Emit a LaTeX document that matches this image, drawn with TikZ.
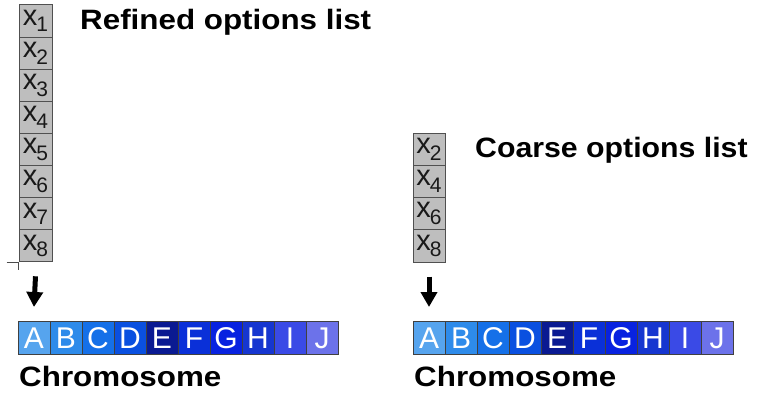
\documentclass[tikz,border=0pt]{standalone}
\usepackage{fontspec}
\setmainfont{Liberation Sans}
\usetikzlibrary{arrows.meta}
\definecolor{cA}{HTML}{56A4EE}
\definecolor{cB}{HTML}{2E8BEA}
\definecolor{cC}{HTML}{1570E8}
\definecolor{cD}{HTML}{0A50E0}
\definecolor{cE}{HTML}{0A1A92}
\definecolor{cF}{HTML}{0A30D8}
\definecolor{cG}{HTML}{0822E0}
\definecolor{cH}{HTML}{1636D0}
\definecolor{cI}{HTML}{3A4AE6}
\definecolor{cJ}{HTML}{6C72EA}
\definecolor{cellgray}{HTML}{BEBEBE}
\definecolor{edgegray}{HTML}{505050}
\newcommand{\xlab}[1]{{\fontsize{29}{29}\selectfont x}\kern-1pt\raisebox{-6.5pt}{\fontsize{21}{21}\selectfont #1}}
\tikzset{
  optcell/.style={draw=edgegray, fill=cellgray, line width=1pt, minimum width=33pt, minimum height=32.1pt, inner sep=0pt, text=black!90},
  chcell/.style={draw=black!75, line width=1pt, minimum width=32pt, minimum height=33pt, inner sep=0pt, text=white, font=\fontsize{30}{30}\selectfont},
  title/.style={anchor=base west, inner sep=0pt, font=\fontsize{28}{28}\selectfont\bfseries, xscale=1.12, transform shape},
  bigarrow/.style={line width=5pt, -{Triangle[width=16pt,length=15pt]}},
  cropmark/.style={draw=black!70, line width=0.9pt}
}
\begin{document}
\begin{tikzpicture}[x=1pt,y=-1pt]
\useasboundingbox (0,0) rectangle (759,396);
% refined list
\foreach \i in {1,...,8} {
  \node[optcell] (r\i) at (35.5, {5+32.1*(\i-0.5)}) {\xlab{\i}};
}
\node[title] (rt) at (80,30) {Refined options list};
\draw[cropmark] ([xshift=-12pt]r8.south west) -- (r8.south west) -- ([yshift=-8pt]r8.south west);
% coarse list
\foreach \i/\n in {1/2,2/4,3/6,4/8} {
  \node[optcell, minimum width=32pt, minimum height=32.25pt] (c\i) at (429, {133+32.25*(\i-0.5)}) {\xlab{\n}};
}
\node[title, xscale=0.965] (ct) at (475,157) {Coarse options list};
% chromosomes
\foreach \k/\L in {0/A,1/B,2/C,3/D,4/E,5/F,6/G,7/H,8/I,9/J} {
  \node[chcell, fill=c\L] (l\L) at ({34+32*\k}, 338) {\L};
  \node[chcell, fill=c\L] (q\L) at ({429+32*\k}, 338) {\L};
}
\node[title] (lch) at (19,386) {Chromosome};
\node[title] (qch) at (414,386) {Chromosome};
% arrows
\draw[bigarrow] ([yshift=-14pt]r8.south) -- ([yshift=14pt]lA.north);
\draw[bigarrow] ([yshift=-14pt]c4.south) -- ([yshift=14pt]qA.north);
\end{tikzpicture}
\end{document}
